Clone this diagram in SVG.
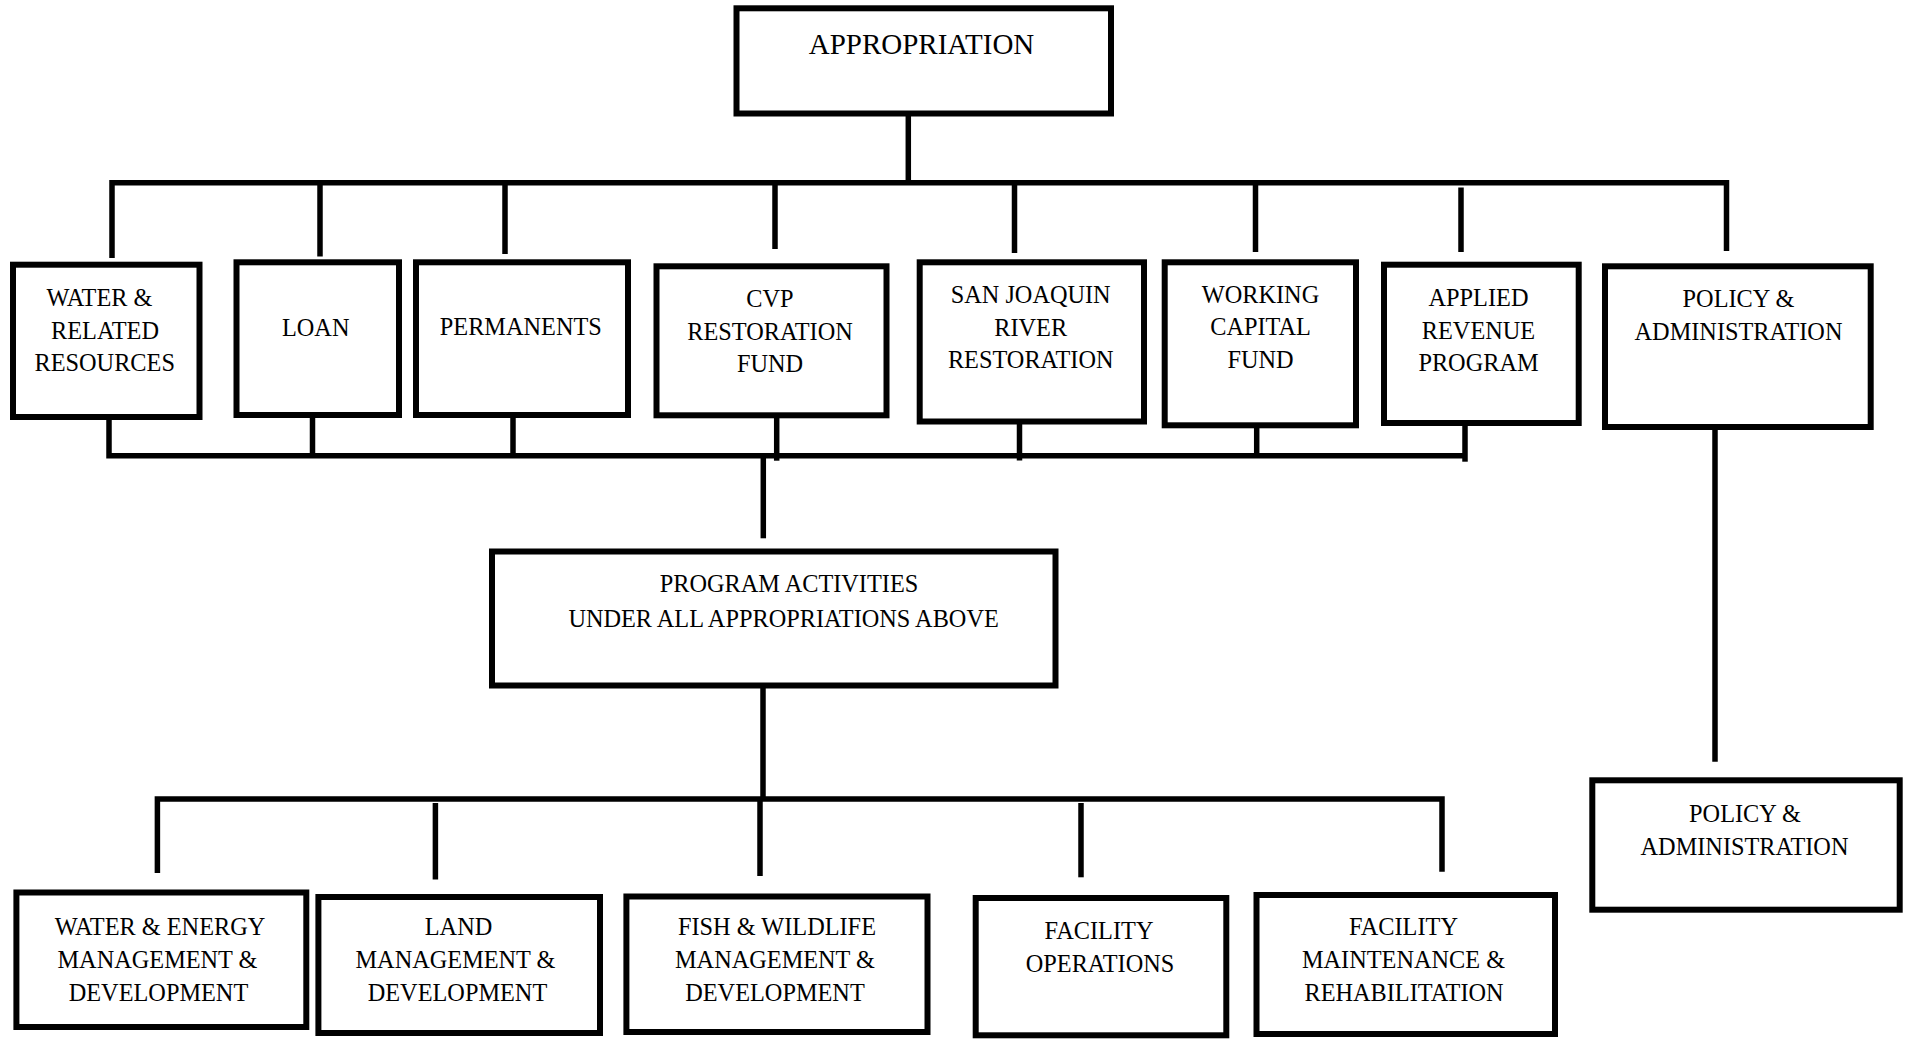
<svg xmlns="http://www.w3.org/2000/svg" width="1908" height="1039" viewBox="0 0 1908 1039">
<style>
.box{fill:#fff;stroke:#000;stroke-width:6}
.ln{fill:none;stroke:#000;stroke-width:5.5;stroke-linecap:butt;stroke-linejoin:miter}
text{font-family:"Liberation Serif","Times New Roman",serif;font-size:24.3px;fill:#000;text-anchor:middle}
.big{font-size:29px}
</style>
<rect width="1908" height="1039" fill="#fff"/>
<g id="connectors">
<line class="ln" x1="908.3" y1="114" x2="908.3" y2="183"/>
<path class="ln" d="M112,258 V182.7 H1726.5 V251"/>
<line class="ln" x1="320" y1="182" x2="320" y2="256.5"/>
<line class="ln" x1="505" y1="182" x2="505" y2="254"/>
<line class="ln" x1="775" y1="182" x2="775" y2="249"/>
<line class="ln" x1="1014.5" y1="182" x2="1014.5" y2="253"/>
<line class="ln" x1="1255.5" y1="182" x2="1255.5" y2="252"/>
<line class="ln" x1="1461" y1="187.5" x2="1461" y2="252"/>
<path class="ln" d="M109,412 V455.7 H1465"/>
<line class="ln" x1="1465" y1="419" x2="1465" y2="461.7"/>
<line class="ln" x1="312.5" y1="409" x2="312.5" y2="456"/>
<line class="ln" x1="513" y1="412" x2="513" y2="456"/>
<line class="ln" x1="776.7" y1="418" x2="776.7" y2="460.7"/>
<line class="ln" x1="1019.5" y1="421.7" x2="1019.5" y2="460.5"/>
<line class="ln" x1="1256.7" y1="426.7" x2="1256.7" y2="456"/>
<line class="ln" x1="763.3" y1="458" x2="763.3" y2="538.3"/>
<line class="ln" x1="763" y1="679.5" x2="763" y2="799"/>
<path class="ln" d="M157.4,873 V799 H1442 V871.8"/>
<line class="ln" x1="435.4" y1="803" x2="435.4" y2="879.5"/>
<line class="ln" x1="760" y1="799" x2="760" y2="876"/>
<line class="ln" x1="1081" y1="803" x2="1081" y2="877.3"/>
<line class="ln" x1="1715" y1="423" x2="1715" y2="761.7"/>
</g>
<g id="appropriation">
<rect class="box" x="736.5" y="8.3" width="374.5" height="105.2"/>
<text class="big" x="921.5" y="53.5">APPROPRIATION</text>
</g>
<g id="water-related">
<rect class="box" x="13" y="264.7" width="186.5" height="152.3"/>
<text x="99.5" y="306">WATER &amp;</text>
<text x="105" y="338.7">RELATED</text>
<text x="104.7" y="371">RESOURCES</text>
</g>
<g id="loan">
<rect class="box" x="236.5" y="262.3" width="162.5" height="152.7"/>
<text x="315.7" y="336">LOAN</text>
</g>
<g id="permanents">
<rect class="box" x="416" y="262.3" width="212" height="152.7"/>
<text x="520.8" y="335.3">PERMANENTS</text>
</g>
<g id="cvp">
<rect class="box" x="656.5" y="266.3" width="230" height="149"/>
<text x="770" y="307">CVP</text>
<text x="770" y="339.5">RESTORATION</text>
<text x="770" y="371.5">FUND</text>
</g>
<g id="san-joaquin">
<rect class="box" x="919.7" y="262.3" width="224.3" height="159.2"/>
<text x="1030.7" y="303">SAN JOAQUIN</text>
<text x="1030.7" y="335.5">RIVER</text>
<text x="1030.7" y="367.5">RESTORATION</text>
</g>
<g id="working-capital">
<rect class="box" x="1164.7" y="262.3" width="191.3" height="163"/>
<text x="1260.5" y="303">WORKING</text>
<text x="1260.5" y="335">CAPITAL</text>
<text x="1260.5" y="367.5">FUND</text>
</g>
<g id="applied-revenue">
<rect class="box" x="1384" y="264.7" width="194.7" height="158.3"/>
<text x="1478.5" y="306">APPLIED</text>
<text x="1478.5" y="339">REVENUE</text>
<text x="1478.5" y="371">PROGRAM</text>
</g>
<g id="policy-top">
<rect class="box" x="1605" y="266.3" width="265.7" height="160.7"/>
<text x="1738.5" y="307">POLICY &amp;</text>
<text x="1738.5" y="339.5">ADMINISTRATION</text>
</g>
<g id="program-activities">
<rect class="box" x="492" y="551.5" width="563.5" height="134"/>
<text x="789" y="592">PROGRAM ACTIVITIES</text>
<text x="783.6" y="626.5">UNDER ALL APPROPRIATIONS ABOVE</text>
</g>
<g id="policy-bottom">
<rect class="box" x="1592.3" y="780.3" width="307.4" height="129.4"/>
<text x="1745" y="822">POLICY &amp;</text>
<text x="1744.5" y="855">ADMINISTRATION</text>
</g>
<g id="water-energy">
<rect class="box" x="16.4" y="892.5" width="289.9" height="134.5"/>
<text x="160" y="935">WATER &amp; ENERGY</text>
<text x="157.5" y="968">MANAGEMENT &amp;</text>
<text x="158.5" y="1000.5">DEVELOPMENT</text>
</g>
<g id="land">
<rect class="box" x="318.4" y="897" width="281.6" height="136"/>
<text x="458.5" y="935">LAND</text>
<text x="455.5" y="968">MANAGEMENT &amp;</text>
<text x="457.5" y="1000.5">DEVELOPMENT</text>
</g>
<g id="fish-wildlife">
<rect class="box" x="626.4" y="896.5" width="301.1" height="135.5"/>
<text x="777" y="935">FISH &amp; WILDLIFE</text>
<text x="775" y="968">MANAGEMENT &amp;</text>
<text x="775" y="1000.5">DEVELOPMENT</text>
</g>
<g id="facility-operations">
<rect class="box" x="975.7" y="898" width="250.6" height="137.3"/>
<text x="1099" y="939.3">FACILITY</text>
<text x="1100" y="971.7">OPERATIONS</text>
</g>
<g id="facility-maintenance">
<rect class="box" x="1256.5" y="895" width="298.5" height="139"/>
<text x="1403.5" y="935">FACILITY</text>
<text x="1403.5" y="968">MAINTENANCE &amp;</text>
<text x="1404" y="1000.5">REHABILITATION</text>
</g>
</svg>
